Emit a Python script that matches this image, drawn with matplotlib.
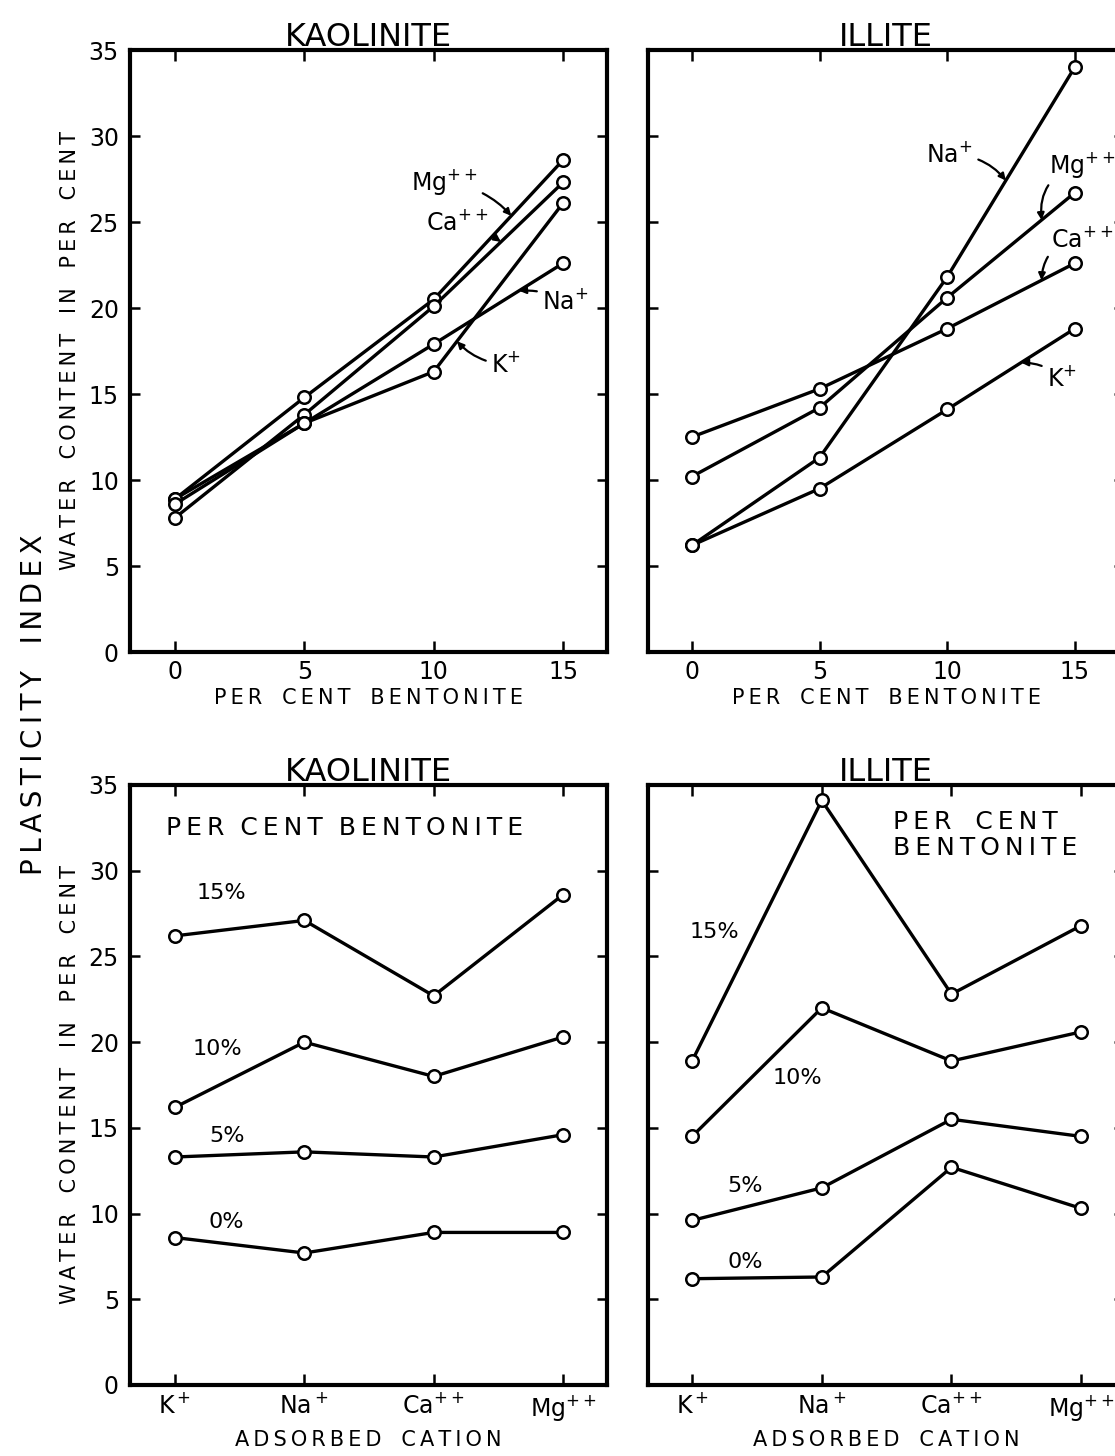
import matplotlib
matplotlib.use('Agg')
import matplotlib.pyplot as plt
import numpy as np

plt.rcParams['font.family'] = ['DejaVu Sans']
plt.rcParams['mathtext.fontset'] = 'dejavusans'

# ---------------- data ----------------
bentonite = [0, 5, 10, 15]
bentonite_ticks = ['0', '5', '10', '15']
cation_labels = ['K$^+$', 'Na$^+$', 'Ca$^{++}$', 'Mg$^{++}$']
cation_pos = [0, 1, 2, 3]
y_ticks = [0, 5, 10, 15, 20, 25, 30, 35]

# Top-left: Kaolinite, plasticity index vs per cent bentonite (labels as in figure)
kao_mg = [8.9, 14.8, 20.5, 28.6]
kao_ca = [7.8, 13.8, 20.1, 27.3]
kao_na = [8.9, 13.3, 17.9, 22.6]
kao_k = [8.6, 13.3, 16.3, 26.1]

# Top-right: Illite, plasticity index vs per cent bentonite
ill_na = [6.2, 11.3, 21.8, 34.0]
ill_mg = [10.2, 14.2, 20.6, 26.7]
ill_ca = [12.5, 15.3, 18.8, 22.6]
ill_k = [6.2, 9.5, 14.1, 18.8]

# Bottom-left: Kaolinite vs adsorbed cation (K, Na, Ca, Mg)
kao_b15 = [26.2, 27.1, 22.7, 28.6]
kao_b10 = [16.2, 20.0, 18.0, 20.3]
kao_b5 = [13.3, 13.6, 13.3, 14.6]
kao_b0 = [8.6, 7.7, 8.9, 8.9]

# Bottom-right: Illite vs adsorbed cation
ill_b15 = [18.9, 34.1, 22.8, 26.8]
ill_b10 = [14.5, 22.0, 18.9, 20.6]
ill_b5 = [9.6, 11.5, 15.5, 14.5]
ill_b0 = [6.2, 6.3, 12.7, 10.3]


def spaced(s, word_gap='   '):
    """Letter-spaced caption text (thin spaces between letters)."""
    return word_gap.join('\u2009'.join(w) for w in s.split(' '))


# ---------------- figure ----------------
W, H = 1115, 1456
fig = plt.figure(figsize=(W / 100, H / 100), dpi=100)
fig.patch.set_facecolor('white')


def px_axes(l, t, r, b):
    return fig.add_axes([l / W, 1 - b / H, (r - l) / W, (b - t) / H])


ax_tl = px_axes(130, 50, 607, 652)
ax_tr = px_axes(648, 50, 1124, 652)
ax_bl = px_axes(130, 785, 607, 1385)
ax_br = px_axes(648, 785, 1124, 1385)

LW = 2.4
MS = 9
line_kw = dict(color='black', lw=LW, marker='o', ms=MS, mfc='white',
               mec='black', mew=1.8, solid_joinstyle='miter', zorder=3)
TICK_FS = 17
ION_FS = 17


def style(ax, xticks, xlabels, xlim, show_y, xlabel):
    ax.set_xlim(*xlim)
    ax.set_ylim(0, 35)
    ax.set_yticks(y_ticks)
    ax.set_xticks(xticks)
    ax.set_xticklabels(xlabels, fontsize=TICK_FS)
    if show_y:
        ax.set_yticklabels([str(v) for v in y_ticks], fontsize=TICK_FS)
    else:
        ax.set_yticklabels([])
    ax.tick_params(direction='in', length=8, width=1.8, top=True, right=True,
                   pad=6)
    ax.tick_params(axis='y', length=7, pad=8)
    for s in ax.spines.values():
        s.set_linewidth(3.0)
    ax.set_xlabel(spaced(xlabel), fontsize=15, labelpad=3)


style(ax_tl, bentonite, bentonite_ticks, (-1.74, 16.70), True,
      'PER CENT BENTONITE')
style(ax_tr, bentonite, bentonite_ticks, (-1.72, 16.93), False,
      'PER CENT BENTONITE')
style(ax_bl, cation_pos, cation_labels, (-0.348, 3.34), True,
      'ADSORBED CATION')
style(ax_br, cation_pos, cation_labels, (-0.34, 3.33), False,
      'ADSORBED CATION')
ax_bl.xaxis.labelpad = 5
ax_br.xaxis.labelpad = 5

for ax in (ax_tl, ax_bl):
    ax.set_ylabel(spaced('WATER CONTENT IN PER CENT'), fontsize=15,
                  labelpad=6)

for ax, t in ((ax_tl, 'KAOLINITE'), (ax_tr, 'ILLITE'), (ax_bl, 'KAOLINITE'),
              (ax_br, 'ILLITE')):
    ax.set_title(t, fontsize=23, pad=3)

fig.text(34 / W, 1 - 705 / H, spaced('PLASTICITY INDEX'),
         rotation=90, fontsize=20, ha='center', va='center')

# ---------------- top-left ----------------
for ys in (kao_mg, kao_ca, kao_na, kao_k):
    ax_tl.plot(bentonite, ys, **line_kw)

arrow_kw = dict(arrowstyle='-|>', color='black', lw=1.6, mutation_scale=10)


def ann(ax, label, series, xat, text_xy, rad, ha='center'):
    yat = float(np.interp(xat, bentonite, series))
    ax.annotate(label, xy=(xat, yat), xytext=text_xy, fontsize=ION_FS,
                ha=ha, va='center', zorder=5,
                arrowprops=dict(connectionstyle=f'arc3,rad={rad}', shrinkA=2,
                                shrinkB=0, **arrow_kw))


ann(ax_tl, 'Mg$^{++}$', kao_mg, 13.0, (10.4, 27.3), -0.2)
ann(ax_tl, 'Ca$^{++}$', kao_ca, 12.6, (10.9, 25.0), -0.1)
ann(ax_tl, 'Na$^{+}$', kao_na, 13.3, (15.1, 20.4), 0.15)
ann(ax_tl, 'K$^{+}$', kao_k, 10.9, (12.8, 16.7), -0.2)

# ---------------- top-right ----------------
for ys in (ill_na, ill_mg, ill_ca, ill_k):
    ax_tr.plot(bentonite, ys, **line_kw)

ann(ax_tr, 'Na$^{+}$', ill_na, 12.3, (10.1, 28.9), -0.25)
ann(ax_tr, 'Mg$^{++}$', ill_mg, 13.7, (15.3, 28.3), 0.45)
ann(ax_tr, 'Ca$^{++}$', ill_ca, 13.7, (15.3, 24.0), 0.45)
ann(ax_tr, 'K$^{+}$', ill_k, 12.9, (14.5, 15.9), 0.2)

# ---------------- bottom-left ----------------
for ys in (kao_b15, kao_b10, kao_b5, kao_b0):
    ax_bl.plot(cation_pos, ys, **line_kw)
ax_bl.text(1.31, 32.5, spaced('PER CENT BENTONITE', '  '), fontsize=18,
           ha='center', va='center')
for lab, (x, y) in zip(['15%', '10%', '5%', '0%'],
                       [(0.36, 28.7), (0.33, 19.6), (0.40, 14.5), (0.40, 9.5)]):
    ax_bl.text(x, y, lab, fontsize=16, ha='center', va='center')

# ---------------- bottom-right ----------------
for ys in (ill_b15, ill_b10, ill_b5, ill_b0):
    ax_br.plot(cation_pos, ys, **line_kw)
ax_br.text(1.55, 32.1, spaced('PER CENT', '   ') + '\n' + spaced('BENTONITE'),
           fontsize=18, ha='left', va='center', linespacing=1.1)
for lab, (x, y) in zip(['15%', '10%', '5%', '0%'],
                       [(0.17, 26.4), (0.81, 17.9), (0.41, 11.6), (0.41, 7.2)]):
    ax_br.text(x, y, lab, fontsize=16, ha='center', va='center')

fig.savefig('out.png', dpi=100, facecolor='white')
